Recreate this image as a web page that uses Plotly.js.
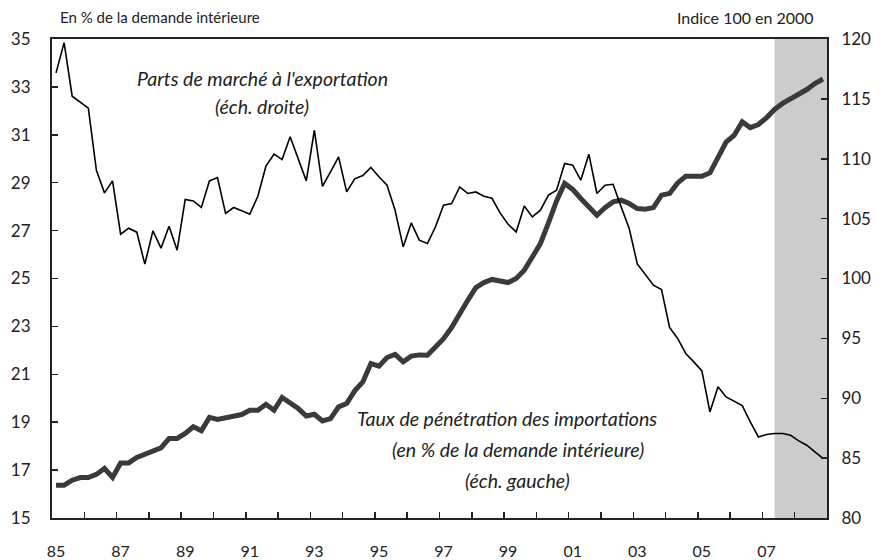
<!DOCTYPE html>
<html>
<head>
<meta charset="utf-8">
<script src="https://cdn.plot.ly/plotly-3.0.1.min.js"></script>
<style>html,body{margin:0;padding:0;background:#fff;}#chart{width:880px;height:560px;}</style>
</head>
<body>
<div id="chart"></div>
<script>
// Quarterly data 1985Q1 - 2008Q4
const years = [1985,1986,1987,1988,1989,1990,1991,1992,1993,1994,1995,1996,1997,1998,1999,2000,2001,2002,2003,2004,2005,2006,2007,2008];
const quarters = [1,2,3,4];

// Taux de pénétration des importations (% demande intérieure, left axis)
const importPenetration = [
  16.37,16.37,16.58,16.69,
  16.69,16.82,17.07,16.69,
  17.30,17.30,17.53,17.66,
  17.76,17.93,18.32,18.32,
  18.53,18.81,18.64,19.20,
  19.12,19.20,19.25,19.32,
  19.50,19.50,19.75,19.50,
  20.03,19.81,19.57,19.26,
  19.33,19.05,19.15,19.64,
  19.78,20.31,20.68,21.45,
  21.34,21.70,21.83,21.52,
  21.76,21.81,21.80,22.14,
  22.49,22.95,23.56,24.09,
  24.62,24.83,24.96,24.89,
  24.83,25.00,25.35,25.90,
  26.46,27.32,28.24,28.97,
  28.72,28.34,28.02,27.64,
  27.96,28.20,28.27,28.13,
  27.92,27.89,27.96,28.48,
  28.55,28.99,29.27,29.27,
  29.27,29.41,30.01,30.70,
  30.98,31.54,31.30,31.43,
  31.71,32.06,32.31,32.50,
  32.72,32.89,33.14,33.33
];

// Parts de marché à l'exportation (indice 100 en 2000, right axis)
const exportShare = [
  117.17,119.70,115.22,114.72,
  114.22,109.04,107.15,108.15,
  103.70,104.20,103.87,101.20,
  103.98,102.53,104.37,102.36,
  106.60,106.48,105.93,108.15,
  108.43,105.43,105.93,105.65,
  105.37,106.87,109.38,110.38,
  109.93,111.83,110.02,108.15,
  112.38,107.70,108.90,110.16,
  107.23,108.32,108.60,109.27,
  108.49,107.79,105.70,102.64,
  104.64,103.20,102.92,104.31,
  106.12,106.26,107.65,107.10,
  107.23,106.87,106.70,105.48,
  104.53,103.89,106.06,105.14,
  105.70,106.96,107.37,109.60,
  109.46,108.21,110.38,107.10,
  107.79,107.87,105.98,104.17,
  101.22,100.28,99.44,99.08,
  95.91,94.99,93.74,93.04,
  92.28,88.86,90.95,90.11,
  89.75,89.39,88.02,86.77,
  86.97,87.06,87.06,86.91,
  86.44,86.08,85.52,84.97
];

const tickYears = years.slice();
const tickLabels = tickYears.map((y,i) => (i % 2 === 0) ? String(y).slice(2) : '');

const shadeStart = 2007.375;
const shadeEnd = 2009;

// x position of each quarter (mid-quarter)
const xq = [];
years.forEach(y => quarters.forEach(q => xq.push(y + (q - 0.5) / 4)));

const FONT = 'Lato, "Noto Sans", sans-serif';

const traces = [
  {
    x: xq, y: exportShare, yaxis: 'y2', type: 'scatter', mode: 'lines',
    line: {color: '#000000', width: 1.6}, name: "Parts de marché à l'exportation"
  },
  {
    x: xq, y: importPenetration, yaxis: 'y', type: 'scatter', mode: 'lines',
    line: {color: '#3a3a3a', width: 5}, name: 'Taux de pénétration des importations'
  }
];

const annFont = {family: FONT, size: 19.5, color: '#222'};
function px2paper(px, py) {
  return {x: (px - 52) / 775, y: (518 - py) / 479};
}
function ann(text, px, py, extra) {
  const p = px2paper(px, py);
  return Object.assign({text: text, xref: 'paper', yref: 'paper', x: p.x, y: p.y,
    showarrow: false, xanchor: 'center', yanchor: 'middle', font: annFont}, extra || {});
}

const layout = {
  width: 880, height: 560,
  margin: {l: 52, r: 53, t: 39, b: 42},
  paper_bgcolor: '#ffffff', plot_bgcolor: '#ffffff',
  showlegend: false,
  font: {family: FONT, size: 16, color: '#222'},
  xaxis: {
    range: [1985, 2009], tickmode: 'array', tickvals: tickYears, ticktext: tickLabels,
    ticks: 'inside', ticklen: 6, tickwidth: 1.5, tickcolor: '#222',
    showline: true, linecolor: '#222', linewidth: 2, mirror: true,
    showgrid: false, zeroline: false, ticklabelstandoff: 18, ticklabelshift: 4,
    tickfont: {family: FONT, size: 16, color: '#222'}
  },
  yaxis: {
    range: [15, 35], dtick: 2, tick0: 15,
    ticks: 'inside', ticklen: 6, tickwidth: 1.5, tickcolor: '#222',
    showline: true, linecolor: '#222', linewidth: 2,
    showgrid: false, zeroline: false, ticklabelstandoff: 16,
    tickfont: {family: FONT, size: 17, color: '#222'}
  },
  yaxis2: {
    range: [80, 120], dtick: 5, tick0: 80, overlaying: 'y', side: 'right',
    ticks: 'inside', ticklen: 6, tickwidth: 1.5, tickcolor: '#222',
    showline: true, linecolor: '#222', linewidth: 2,
    showgrid: false, zeroline: false, ticklabelstandoff: 9,
    tickfont: {family: FONT, size: 17, color: '#222'}
  },
  shapes: [{
    type: 'rect', xref: 'x', yref: 'paper', x0: shadeStart, x1: shadeEnd, y0: 0, y1: 1,
    fillcolor: '#cccccc', line: {width: 0}, layer: 'below'
  }],
  annotations: [
    ann("<i>Parts de marché à l'exportation</i>", 262, 78),
    ann("<i>(éch. droite)</i>", 262, 107),
    ann("<i>Taux de pénétration des importations</i>", 507, 418),
    ann("<i>(en % de la demande intérieure)</i>", 518, 449),
    ann("<i>(éch. gauche)</i>", 517, 480),
    {text: 'En % de la demande intérieure', xref: 'paper', yref: 'paper', x: (58 - 52) / 775, y: 1, yshift: 22,
     xanchor: 'left', yanchor: 'middle', showarrow: false, font: {family: FONT, size: 15, color: '#222'}},
    {text: 'Indice 100 en 2000', xref: 'paper', yref: 'paper', x: (816 - 52) / 775, y: 1, yshift: 22,
     xanchor: 'right', yanchor: 'middle', showarrow: false, font: {family: FONT, size: 16, color: '#222'}}
  ]
};

Plotly.newPlot('chart', traces, layout, {displayModeBar: false, staticPlot: true});
</script>
</body>
</html>
